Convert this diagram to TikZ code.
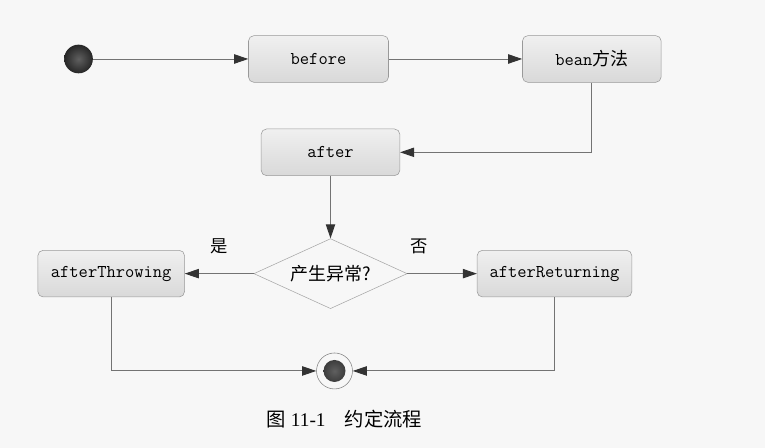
\documentclass[tikz,border=0pt]{standalone}
\usepackage{fontspec}
\setmainfont{Liberation Serif}
\newfontfamily\cjk{Noto Sans CJK SC}
\usetikzlibrary{shapes.geometric,arrows.meta}

\begin{document}
\begin{tikzpicture}[font=\ttfamily\fontsize{13.5}{16}\selectfont,
  box/.style={draw=gray!80, rounded corners=4pt, top color=gray!12, bottom color=gray!30, minimum width=105pt, minimum height=35pt, align=center},
  decision/.style={diamond, draw=gray!70, aspect=2.2, inner sep=0pt, minimum width=115pt, minimum height=52.5pt},
  startstate/.style={circle, inner sep=0pt, minimum size=21.5pt, shading=radial, inner color=gray!75!black, outer color=black!85},
  endstate/.style={circle, draw=black!50, inner sep=0pt, minimum size=27pt,
    path picture={\shade[inner color=gray!75!black, outer color=black!85] (path picture bounding box.center) circle (8.25pt);}},
  arr/.style={draw=black!55, line width=0.7pt, -{Triangle[length=10.5pt,width=7pt,color=black!80]}},
  lbl/.style={font=\cjk\fontsize{13}{15}\selectfont}]
  % Paper
  \fill[gray!6] (-58.9pt,44.25pt) rectangle (514.9pt,-291.75pt);
  % Nodes
  \node[startstate] (start) {};
  \node[box, right of=start, node distance=180pt] (before) {before};
  \node[box, right of=before, node distance=205pt, minimum width=104pt] (bean) {bean{\cjk 方法}};
  \node[box, below of=before, node distance=70pt, xshift=9pt, minimum width=104pt] (after) {after};
  \node[decision, below of=after, node distance=91pt] (check) {{\cjk 产生异常?}};
  \node[box, left of=check, node distance=164.5pt, minimum width=110pt] (thr) {afterThrowing};
  \node[box, right of=check, node distance=168pt, minimum width=116pt] (ret) {afterReturning};
  \node[endstate, below of=check, node distance=73pt, xshift=3pt] (end) {};
  \node[below of=end, node distance=36pt, xshift=7.5pt, font=\rmfamily\fontsize{14.5}{17}\selectfont] (caption) {{\cjk 图}~11-1\quad{\cjk 约定流程}};
  % Connections
  \draw[arr] (start) -- (before);
  \draw[arr] (before) -- (bean);
  \draw[arr] (bean) |- (after);
  \draw[arr] (after) -- (check);
  \draw[arr] (check) -- node[lbl, above=11pt] {是} (thr);
  \draw[arr] (check) -- node[lbl, above=11pt, pos=0.17] {否} (ret);
  \draw[arr] (thr) |- (end);
  \draw[arr] (ret) |- (end);
\end{tikzpicture}
\end{document}
